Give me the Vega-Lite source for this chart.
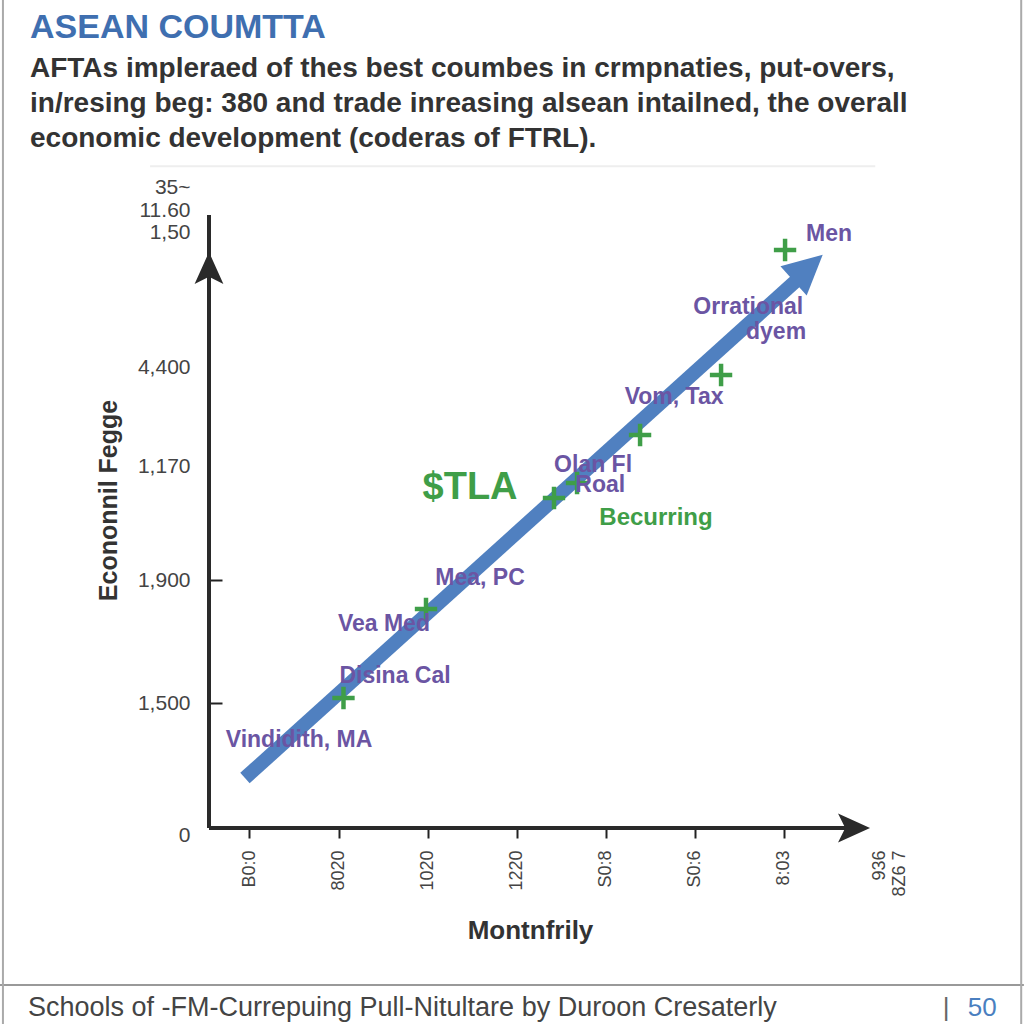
{
  "$schema": "https://vega.github.io/schema/vega-lite/v6.json",
  "width": 681,
  "height": 654,
  "autosize": "none",
  "padding": {"left": 209, "top": 186, "right": 134, "bottom": 184},
  "background": "white",
  "config": {"view": {"stroke": null}, "font": "Liberation Sans"},
  "datasets": {
    "trend": [{"x": -0.051, "y": 8.33}, {"x": 6.2, "y": 92.0}],
    "head": [{"x": 6.258, "y": 93.13}],
    "markers": [
      {"x": 1.056, "y": 21.67},
      {"x": 1.983, "y": 36.5},
      {"x": 3.421, "y": 55.0},
      {"x": 3.68, "y": 57.5},
      {"x": 4.388, "y": 65.5},
      {"x": 5.298, "y": 75.5},
      {"x": 6.017, "y": 96.33}
    ],
    "purple": [
      {"x": 6.511, "y": 99.0, "label": "Men"},
      {"x": 5.604, "y": 86.83, "label": "Orrational"},
      {"x": 5.916, "y": 82.67, "label": "dyem"},
      {"x": 4.77, "y": 71.83, "label": "Vom, Tax"},
      {"x": 3.86, "y": 60.5, "label": "Olan Fl"},
      {"x": 3.94, "y": 57.17, "label": "Roal"},
      {"x": 2.59, "y": 41.67, "label": "Mea, PC"},
      {"x": 1.51, "y": 34.0, "label": "Vea Med"},
      {"x": 1.635, "y": 25.33, "label": "Disina Cal"},
      {"x": 0.556, "y": 14.67, "label": "Vindidith, MA"}
    ],
    "green": [{"x": 4.567, "y": 51.67, "label": "Becurring"}],
    "big": [{"x": 2.478, "y": 56.67, "label": "$TLA"}]
  },
  "layer": [
    {
      "data": {"name": "trend"},
      "mark": {"type": "line", "color": "#5080c0", "strokeWidth": 14, "strokeCap": "butt"},
      "encoding": {
        "x": {
          "field": "x",
          "type": "quantitative",
          "scale": {"domain": [-0.455, 7.196], "nice": false, "zero": false},
          "axis": {
            "title": "Montnfrily",
            "values": [0, 1, 2, 3, 4, 5, 6, 7.08],
            "labelExpr": "round(datum.value) == 7 ? ['936', '8Z6 7'] : ['B0:0', '8020', '1020', '1220', 'S0:8', 'S0:6', '8:03'][round(datum.value)]",
            "grid": false,
            "domain": false,
            "offset": -12,
            "ticks": true,
            "tickSize": 10,
            "tickWidth": 2,
            "tickColor": "#222222",
            "tickOpacity": {"condition": {"test": "datum.value > 6.5", "value": 0}, "value": 1},
            "labelAngle": 270,
            "labelAlign": "right",
            "labelBaseline": "middle",
            "labelPadding": 12,
            "labelFontSize": 18,
            "labelColor": "#444444",
            "labelOverlap": false,
            "labelFlush": false,
            "titleFontSize": 26,
            "titleFontWeight": "bold",
            "titleColor": "#333333",
            "titleX": 321,
            "titleY": 102,
            "titleAlign": "center",
            "titleBaseline": "middle"
          }
        },
        "y": {
          "field": "y",
          "type": "quantitative",
          "scale": {"domain": [-2, 107], "nice": false, "zero": false},
          "axis": {
            "title": "Econonnil Fegge",
            "values": [-1.3, 20.8, 41.3, 60.2, 76.7, 99.3, 103, 106.7],
            "labelExpr": "datum.value < 0 ? '0' : datum.value < 30 ? '1,500' : datum.value < 50 ? '1,900' : datum.value < 70 ? '1,170' : datum.value < 90 ? '4,400' : datum.value < 101 ? '1,50' : datum.value < 105 ? '11.60' : '35~'",
            "grid": false,
            "domain": false,
            "ticks": true,
            "tickSize": -13,
            "tickWidth": 2,
            "tickColor": "#222222",
            "tickOpacity": {"condition": {"test": "datum.value > 15 && datum.value < 45", "value": 1}, "value": 0},
            "labelPadding": 32,
            "labelFontSize": 21,
            "labelColor": "#444444",
            "labelOverlap": false,
            "labelFlush": false,
            "titleFontSize": 25,
            "titleFontWeight": "bold",
            "titleColor": "#333333",
            "titleAngle": 270,
            "titleX": -101,
            "titleY": 314,
            "titleAlign": "center",
            "titleBaseline": "middle"
          }
        }
      }
    },
    {
      "data": {"values": [{"k": 1}]},
      "mark": {"type": "text", "text": "ASEAN COUMTTA", "color": "#3f6fb0", "fontSize": 34, "fontWeight": "bold", "align": "left", "baseline": "alphabetic", "font": "Liberation Sans"},
      "encoding": {"x": {"datum": -2.466, "type": "quantitative"}, "y": {"datum": 131.7, "type": "quantitative"}}
    },
    {
      "data": {"values": [{"k": 1}]},
      "mark": {
        "type": "text",
        "text": [
          "AFTAs impleraed of thes best coumbes in crmpnaties, put-overs,",
          "in/resing beg: 380 and trade inreasing alsean intailned, the overall",
          "economic development (coderas of FTRL)."
        ],
        "lineHeight": 35,
        "color": "#333333",
        "fontSize": 28,
        "fontWeight": "bold",
        "align": "left",
        "baseline": "alphabetic",
        "font": "Liberation Sans"
      },
      "encoding": {"x": {"datum": -2.466, "type": "quantitative"}, "y": {"datum": 125.1, "type": "quantitative"}}
    },
    {
      "data": {"values": [{"k": 1}]},
      "mark": {"type": "rule", "color": "#999999", "strokeWidth": 2},
      "encoding": {"x": {"datum": -2.803, "type": "quantitative"}, "x2": {"datum": 8.7}, "y": {"datum": -26.17, "type": "quantitative"}}
    },
    {
      "data": {"values": [{"k": 1}]},
      "mark": {"type": "rule", "color": "#aaaaaa", "strokeWidth": 2},
      "encoding": {"x": {"datum": -2.77, "type": "quantitative"}, "y": {"datum": 138, "type": "quantitative"}, "y2": {"datum": -32.67}}
    },
    {
      "data": {"values": [{"k": 1}]},
      "mark": {"type": "rule", "color": "#aaaaaa", "strokeWidth": 2},
      "encoding": {"x": {"datum": 8.67, "type": "quantitative"}, "y": {"datum": 138, "type": "quantitative"}, "y2": {"datum": -32.67}}
    },
    {
      "data": {"values": [{"k": 1}]},
      "mark": {"type": "rule", "color": "#eeeeee", "strokeWidth": 2},
      "encoding": {"x": {"datum": -1.117, "type": "quantitative"}, "x2": {"datum": 7.03}, "y": {"datum": 110.3, "type": "quantitative"}}
    },
    {
      "data": {"values": [{"k": 1}]},
      "mark": {"type": "rule", "color": "#2a2a2a", "strokeWidth": 4},
      "encoding": {"x": {"datum": -0.455, "type": "quantitative"}, "y": {"datum": 0, "type": "quantitative"}, "y2": {"datum": 102.17}}
    },
    {
      "data": {"values": [{"k": 1}]},
      "mark": {"type": "rule", "color": "#2a2a2a", "strokeWidth": 4},
      "encoding": {"x": {"datum": -0.455, "type": "quantitative"}, "x2": {"datum": 6.75}, "y": {"datum": 0, "type": "quantitative"}}
    },
    {
      "data": {"values": [{"k": 1}]},
      "mark": {"type": "point", "shape": "M0,-1L0.9,1L0,0.55L-0.9,1Z", "filled": true, "color": "#2a2a2a", "opacity": 1, "size": 1024, "angle": 0},
      "encoding": {"x": {"datum": -0.455, "type": "quantitative"}, "y": {"datum": 93.33, "type": "quantitative"}}
    },
    {
      "data": {"values": [{"k": 1}]},
      "mark": {"type": "point", "shape": "M0,-1L0.9,1L0,0.55L-0.9,1Z", "filled": true, "color": "#2a2a2a", "opacity": 1, "size": 1024, "angle": 90},
      "encoding": {"x": {"datum": 6.792, "type": "quantitative"}, "y": {"datum": 0, "type": "quantitative"}}
    },
    {
      "data": {"name": "head"},
      "mark": {"type": "point", "shape": "M0,-1L0.9,0.8L-0.9,0.8Z", "filled": true, "color": "#5080c0", "opacity": 1, "size": 1900, "angle": 48},
      "encoding": {"x": {"field": "x", "type": "quantitative"}, "y": {"field": "y", "type": "quantitative"}}
    },
    {
      "data": {"name": "markers"},
      "mark": {"type": "point", "shape": "M-1,-0.2H-0.2V-1H0.2V-0.2H1V0.2H0.2V1H-0.2V0.2H-1Z", "filled": true, "color": "#3f9e48", "opacity": 1, "size": 500},
      "encoding": {"x": {"field": "x", "type": "quantitative"}, "y": {"field": "y", "type": "quantitative"}}
    },
    {
      "data": {"name": "purple"},
      "mark": {"type": "text", "color": "#6b55a3", "fontSize": 23, "fontWeight": "bold", "align": "center", "baseline": "middle", "font": "Liberation Sans"},
      "encoding": {"x": {"field": "x", "type": "quantitative"}, "y": {"field": "y", "type": "quantitative"}, "text": {"field": "label"}}
    },
    {
      "data": {"name": "green"},
      "mark": {"type": "text", "color": "#3f9e48", "fontSize": 24, "fontWeight": "bold", "align": "center", "baseline": "middle", "font": "Liberation Sans"},
      "encoding": {"x": {"field": "x", "type": "quantitative"}, "y": {"field": "y", "type": "quantitative"}, "text": {"field": "label"}}
    },
    {
      "data": {"name": "big"},
      "mark": {"type": "text", "color": "#3f9e48", "fontSize": 38, "fontWeight": "bold", "align": "center", "baseline": "middle", "font": "Liberation Sans"},
      "encoding": {"x": {"field": "x", "type": "quantitative"}, "y": {"field": "y", "type": "quantitative"}, "text": {"field": "label"}}
    },
    {
      "data": {"values": [{"k": 1}]},
      "mark": {"type": "text", "text": "Schools of -FM-Currepuing Pull-Nitultare by Duroon Cresaterly", "color": "#444444", "fontSize": 27, "align": "left", "baseline": "middle", "font": "Liberation Sans"},
      "encoding": {"x": {"datum": -2.489, "type": "quantitative"}, "y": {"datum": -30, "type": "quantitative"}}
    },
    {
      "data": {"values": [{"k": 1}]},
      "mark": {"type": "text", "text": "|", "color": "#666666", "fontSize": 26, "align": "center", "baseline": "middle", "font": "Liberation Sans"},
      "encoding": {"x": {"datum": 7.826, "type": "quantitative"}, "y": {"datum": -30, "type": "quantitative"}}
    },
    {
      "data": {"values": [{"k": 1}]},
      "mark": {"type": "text", "text": "50", "color": "#4a7fc0", "fontSize": 26, "align": "left", "baseline": "middle", "font": "Liberation Sans"},
      "encoding": {"x": {"datum": 8.07, "type": "quantitative"}, "y": {"datum": -30, "type": "quantitative"}}
    }
  ]
}
